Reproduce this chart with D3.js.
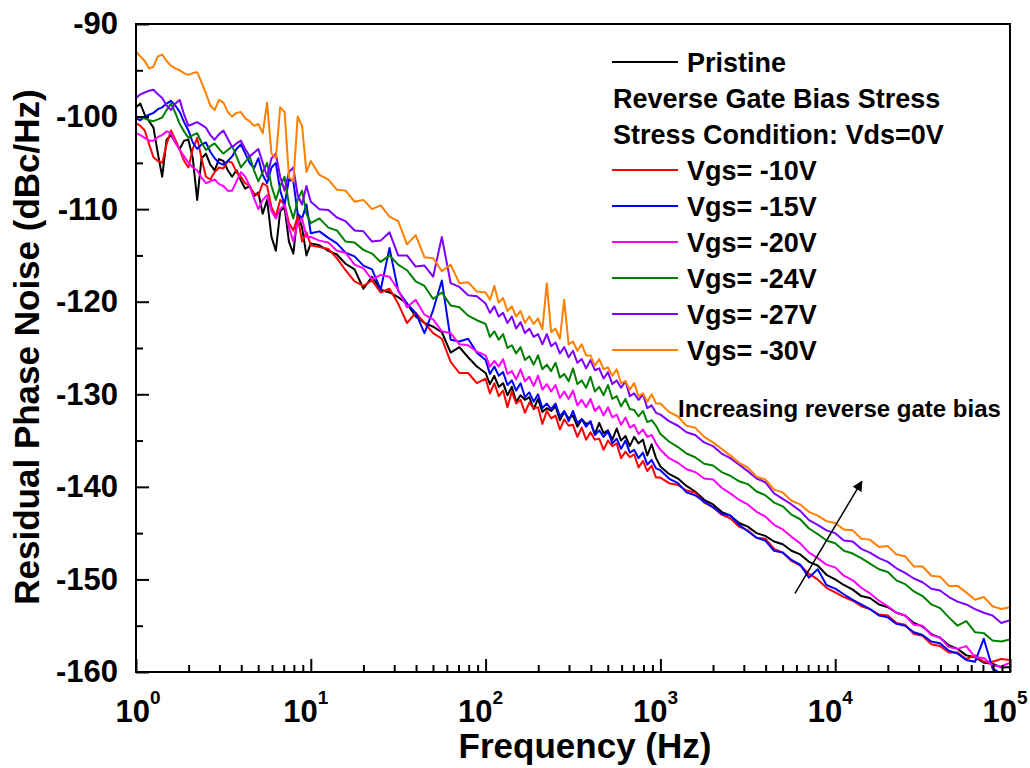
<!DOCTYPE html>
<html>
<head>
<meta charset="UTF-8">
<title>Residual Phase Noise</title>
<script src="https://d3js.org/d3.v7.min.js"></script>
<style>
  body { margin: 0; background: #fff; }
  svg text { font-family: Arial, "Liberation Sans", sans-serif; font-weight: bold; fill: #000; }
</style>
</head>
<body>
<svg id="chart" width="1030" height="768"></svg>
<script>
// sampling grid: 40 points per decade in the noisy decades (1-10 Hz, 100-1000 Hz), 20 elsewhere
const mantissasFine = [1.000,1.059,1.122,1.189,1.259,1.334,1.413,1.496,1.585,1.679,1.778,1.884,1.995,2.113,2.239,2.371,2.512,2.661,2.818,2.985,
                       3.162,3.350,3.548,3.758,3.981,4.217,4.467,4.732,5.012,5.309,5.623,5.957,6.310,6.683,7.079,7.499,7.943,8.414,8.913,9.441];
const mantissas = [1.00,1.12,1.26,1.41,1.58,1.78,2.00,2.24,2.51,2.82,3.16,3.55,3.98,4.47,5.01,5.62,6.31,7.08,7.94,8.91];
const decades = [1, 10, 100, 1000, 10000];
const frequency = [].concat(
  mantissasFine.map(m => m * 1),
  mantissas.map(m => m * 10),
  mantissasFine.map(m => m * 100),
  mantissas.map(m => m * 1000),
  mantissas.map(m => m * 10000),
  [100000]);

// values (dBc/Hz), rows follow the grid above
const pristine = [
  -99.0,-98.6,-99.8,-100.5,-101.2,-104.0,-106.5,-102.5,-102.0,-102.8,-103.5,-102.6,-102.5,-104.5,-109.0,-104.5,-104.0,-105.2,-105.8,-104.6,
  -104.8,-105.8,-106.5,-105.8,-106.9,-107.8,-107.5,-108.6,-108.2,-110.5,-109.0,-113.0,-114.5,-110.2,-109.8,-113.5,-114.8,-110.5,-112.0,-115.0,
  -113.7,-113.9,-114.5,-114.9,-115.9,-116.5,-118.6,-117.3,-118.7,-119.0,-119.5,-120.2,-121.6,-122.3,-122.7,-123.3,-125.5,-124.9,-126.0,-127.0,
  -127.7,-128.9,-128.0,-129.2,-128.8,-130.1,-129.2,-130.8,-130.1,-130.6,-130.3,-131.6,-130.5,-131.9,-131.5,-131.8,-131.3,-132.8,-131.9,-132.6,
  -132.3,-133.5,-132.7,-133.2,-133.0,-134.3,-133.1,-134.2,-133.9,-134.9,-133.7,-135.0,-134.5,-135.6,-134.6,-135.3,-134.9,-136.6,-135.4,-136.9,
  -137.8,-138.6,-139.1,-139.9,-140.5,-141.4,-141.9,-142.7,-143.1,-143.9,-144.3,-145.0,-145.3,-145.9,-146.2,-146.9,-147.3,-148.1,-148.5,-149.5,
  -150.0,-150.6,-151.1,-151.8,-152.0,-152.7,-153.0,-153.6,-153.9,-154.7,-155.1,-155.9,-156.3,-157.1,-157.5,-158.2,-158.4,-159.0,-159.1,-159.5,
  -159.5];
const vgs10 = [
  -100.7,-101.0,-101.5,-103.0,-104.4,-104.8,-105.0,-103.0,-101.5,-102.5,-103.6,-104.8,-105.5,-103.5,-102.3,-104.5,-106.5,-106.8,-106.0,-105.5,
  -105.6,-104.8,-105.0,-106.0,-106.5,-107.2,-107.5,-108.3,-108.5,-107.2,-107.5,-109.8,-110.8,-109.0,-109.5,-111.5,-112.3,-110.8,-113.5,-112.5,
  -113.9,-114.1,-114.3,-115.3,-116.6,-117.8,-118.3,-117.7,-119.0,-118.6,-120.2,-122.3,-121.2,-122.3,-123.4,-124.0,-126.5,-127.7,-127.7,-128.8,
  -128.3,-129.9,-128.8,-130.2,-129.6,-131.4,-129.7,-131.0,-130.6,-132.0,-130.9,-131.5,-131.4,-133.2,-131.8,-132.6,-132.3,-133.8,-132.7,-133.4,
  -133.3,-134.6,-133.6,-134.9,-134.1,-134.9,-134.8,-136.0,-135.0,-135.6,-135.3,-136.9,-136.2,-136.8,-136.5,-137.9,-137.2,-138.3,-137.7,-139.0,
  -139.0,-139.6,-139.8,-140.4,-140.6,-141.7,-142.2,-143.0,-143.4,-144.3,-144.7,-145.5,-145.6,-146.7,-147.1,-148.0,-148.5,-149.4,-150.0,-150.9,
  -151.4,-151.9,-152.3,-152.9,-153.2,-153.8,-153.9,-154.7,-154.9,-155.9,-156.1,-157.0,-157.2,-157.9,-157.9,-158.6,-158.2,-158.9,-158.9,-158.6,
  -158.7];
const vgs15 = [
  -100.2,-100.4,-100.0,-99.8,-99.6,-99.2,-99.0,-98.6,-98.3,-98.8,-99.5,-100.6,-101.5,-102.8,-103.5,-103.0,-102.8,-103.8,-104.5,-105.0,
  -105.2,-104.8,-104.3,-103.5,-103.0,-104.0,-105.0,-105.6,-104.5,-106.3,-107.2,-105.5,-105.0,-108.0,-109.5,-106.8,-107.0,-110.5,-111.0,-109.5,
  -112.6,-112.4,-113.1,-113.7,-114.7,-115.1,-116.1,-116.5,-118.7,-114.2,-118.8,-120.2,-121.2,-123.4,-120.9,-117.7,-124.1,-124.3,-124.0,-125.5,
  -126.3,-127.8,-127.0,-128.0,-127.6,-129.0,-128.5,-129.6,-128.8,-130.3,-129.8,-130.8,-130.0,-131.5,-131.0,-131.6,-131.0,-132.4,-131.8,-132.9,
  -131.8,-133.1,-132.7,-133.5,-132.9,-134.4,-133.9,-134.6,-134.0,-135.3,-134.8,-135.9,-135.0,-136.3,-136.0,-136.9,-136.3,-137.6,-137.1,-138.0,
  -138.2,-139.1,-139.6,-140.6,-140.9,-141.6,-142.2,-142.9,-143.1,-144.1,-144.8,-145.5,-145.8,-146.9,-147.1,-147.9,-148.4,-149.8,-148.9,-150.6,
  -151.0,-151.6,-152.2,-152.7,-153.2,-153.9,-154.1,-154.8,-155.0,-155.7,-156.0,-156.7,-156.9,-157.7,-158.0,-158.7,-158.9,-156.4,-159.6,-160.2,
  -160.5];
const vgs20 = [
  -101.8,-102.0,-102.3,-102.6,-102.6,-102.2,-102.0,-101.6,-101.8,-102.8,-103.6,-104.3,-105.0,-105.5,-105.8,-106.6,-107.2,-107.0,-106.8,-107.3,
  -107.5,-108.0,-108.0,-107.0,-106.0,-106.5,-107.5,-108.8,-110.0,-109.0,-108.5,-110.2,-111.0,-110.0,-109.5,-112.0,-113.5,-111.5,-111.0,-113.0,
  -113.0,-113.4,-113.6,-114.5,-114.7,-116.0,-116.4,-117.6,-117.1,-117.3,-118.7,-120.6,-119.8,-121.4,-121.9,-123.2,-123.4,-124.6,-124.7,-125.4,
  -125.8,-127.0,-126.4,-127.0,-126.2,-127.8,-127.5,-128.4,-127.3,-128.6,-128.1,-129.1,-128.0,-129.5,-128.9,-129.7,-129.0,-130.4,-129.7,-130.5,
  -129.6,-131.2,-130.6,-131.4,-130.5,-131.8,-131.3,-132.3,-131.4,-132.5,-132.2,-133.3,-132.5,-133.6,-133.3,-134.3,-133.8,-134.6,-134.4,-135.3,
  -136.0,-136.9,-137.4,-138.1,-138.4,-139.1,-139.2,-140.1,-140.7,-141.4,-141.9,-142.7,-143.2,-144.1,-144.6,-145.4,-146.1,-147.1,-147.7,-148.4,
  -148.7,-149.6,-150.1,-150.9,-151.5,-152.3,-152.9,-153.6,-153.9,-154.9,-155.0,-156.0,-156.3,-157.3,-157.5,-157.2,-158.4,-158.5,-159.3,-159.4,
  -159.0];
const vgs24 = [
  -100.0,-100.1,-100.2,-100.4,-100.5,-100.3,-100.1,-99.3,-98.6,-99.6,-100.8,-101.6,-102.3,-102.0,-101.8,-102.8,-103.6,-103.2,-102.9,-103.5,
  -104.0,-103.6,-103.2,-104.3,-105.5,-104.9,-104.3,-105.8,-107.0,-106.0,-105.0,-107.5,-109.0,-107.5,-106.5,-109.5,-111.0,-109.0,-108.0,-110.5,
  -111.5,-111.0,-112.0,-112.3,-113.5,-113.6,-114.4,-114.8,-115.7,-115.0,-116.0,-116.6,-117.8,-118.3,-119.7,-119.0,-120.4,-120.6,-121.5,-122.0,
  -122.4,-123.8,-123.2,-124.1,-123.5,-125.0,-124.7,-125.6,-124.9,-126.3,-125.9,-126.8,-125.8,-127.3,-126.8,-127.5,-126.6,-128.2,-127.8,-128.6,
  -127.2,-128.9,-128.5,-129.3,-128.1,-129.7,-129.2,-130.1,-129.0,-130.5,-130.2,-131.3,-130.5,-131.6,-131.7,-132.4,-131.8,-133.0,-132.8,-133.4,
  -134.3,-135.1,-135.7,-136.4,-136.8,-137.5,-137.7,-138.4,-138.8,-139.4,-139.7,-140.5,-140.9,-141.7,-142.1,-143.0,-143.5,-144.5,-145.1,-145.8,
  -146.1,-146.9,-147.2,-147.7,-148.3,-148.9,-149.2,-150.1,-150.5,-151.3,-151.8,-152.7,-153.1,-154.1,-155.0,-154.5,-155.7,-155.8,-156.6,-156.7,
  -156.5];
const vgs27 = [
  -98.0,-97.6,-97.4,-97.2,-97.1,-97.6,-98.0,-98.8,-99.3,-98.6,-98.2,-99.8,-101.0,-100.8,-100.6,-100.9,-101.2,-102.0,-102.5,-101.9,
  -101.5,-102.4,-103.3,-102.9,-102.6,-103.5,-104.3,-103.9,-103.5,-105.0,-106.5,-104.5,-104.0,-106.5,-108.0,-106.0,-105.5,-108.5,-109.5,-107.5,
  -109.2,-110.0,-110.1,-110.9,-111.3,-112.3,-112.4,-113.5,-113.4,-112.5,-115.0,-115.0,-116.2,-116.1,-117.3,-113.0,-118.0,-118.4,-119.3,-119.4,
  -120.2,-121.2,-120.5,-121.6,-121.2,-122.3,-121.6,-122.9,-122.2,-123.4,-122.9,-123.8,-123.5,-124.6,-123.5,-124.8,-124.4,-125.6,-124.9,-126.0,
  -125.3,-126.6,-126.2,-127.2,-126.3,-127.4,-127.2,-128.3,-127.6,-128.9,-128.5,-129.3,-128.6,-130.2,-129.9,-130.6,-130.0,-131.5,-131.2,-132.0,
  -132.2,-132.9,-133.4,-134.1,-134.4,-135.2,-135.6,-136.4,-136.9,-137.6,-138.3,-139.1,-139.5,-140.7,-141.3,-141.9,-142.6,-143.6,-144.1,-144.7,
  -145.0,-145.8,-145.9,-146.7,-147.1,-147.7,-148.1,-148.8,-149.3,-149.9,-150.3,-151.0,-151.2,-151.9,-152.4,-152.7,-153.2,-153.6,-153.9,-154.7,
  -154.4];
const vgs30 = [
  -93.0,-93.5,-94.0,-94.8,-94.6,-93.5,-93.3,-94.0,-94.5,-94.8,-95.0,-95.3,-95.5,-95.3,-95.2,-96.3,-97.5,-98.8,-99.3,-98.2,
  -98.5,-99.5,-100.0,-99.6,-99.5,-100.2,-100.5,-101.0,-100.8,-101.8,-98.5,-104.0,-104.5,-99.0,-99.5,-106.5,-107.0,-100.0,-101.0,-106.0,
  -104.8,-106.3,-106.8,-107.9,-108.0,-109.2,-109.0,-110.0,-109.6,-110.8,-111.3,-113.8,-112.8,-115.2,-115.3,-116.7,-116.0,-118.0,-117.9,-118.9,
  -119.0,-119.8,-118.3,-120.1,-119.6,-121.0,-120.5,-121.6,-121.0,-122.3,-121.6,-122.4,-121.8,-123.0,-118.0,-123.3,-122.9,-124.0,-119.8,-124.6,
  -124.3,-125.3,-124.6,-125.8,-125.8,-126.9,-126.2,-127.3,-127.1,-128.0,-127.3,-128.8,-128.6,-129.5,-128.8,-130.2,-129.9,-130.8,-130.0,-131.0,
  -131.0,-131.9,-132.4,-133.4,-133.6,-134.6,-135.2,-135.9,-136.6,-137.4,-137.9,-138.9,-139.2,-140.3,-140.6,-141.5,-141.9,-142.7,-143.1,-143.7,
  -143.9,-144.6,-144.7,-145.6,-145.7,-146.5,-146.4,-147.3,-147.5,-148.6,-148.6,-149.6,-149.7,-150.7,-150.7,-151.4,-152.2,-151.9,-152.9,-153.2,
  -153.0];

const seriesNames = ["Pristine", "Vgs= -10V", "Vgs= -15V", "Vgs= -20V", "Vgs= -24V", "Vgs= -27V", "Vgs= -30V"];
const seriesValues = [pristine, vgs10, vgs15, vgs20, vgs24, vgs27, vgs30];
const seriesColors = ["#000000", "#ff0000", "#0000ff", "#ff00ff", "#008000", "#8000ff", "#ff8000"];
const legendHeadings = ["Reverse Gate Bias Stress", "Stress Condition: Vds=0V"];

const xMajor = [1, 10, 100, 1000, 10000, 100000];
const xMinor = decades.flatMap(d => [2, 3, 4, 5, 6, 7, 8, 9].map(m => m * d));
const yMajor = [-90, -100, -110, -120, -130, -140, -150, -160];
const yMinor = [-95, -105, -115, -125, -135, -145, -155];

const margin = { top: 24, right: 20, bottom: 96, left: 136 };
const width = 1030 - margin.left - margin.right,
      height = 768 - margin.top - margin.bottom;

const svg = d3.select("#chart");
const g = svg.append("g").attr("transform", `translate(${margin.left},${margin.top})`);

const x = d3.scaleLog().domain([1, 100000]).range([0, width]);
const y = d3.scaleLinear().domain([-160, -90]).range([height, 0]);

g.append("clipPath").attr("id", "plotClip")
  .append("rect").attr("width", width).attr("height", height);

// curves, pristine first so the stressed traces sit on top
const line = d3.line()
  .x((d, i) => x(frequency[i]))
  .y(d => y(d));

g.append("g").attr("clip-path", "url(#plotClip)")
  .selectAll("path")
  .data(seriesValues)
  .enter()
  .append("path")
  .attr("d", d => line(d))
  .attr("fill", "none")
  .attr("stroke", (d, i) => seriesColors[i])
  .attr("stroke-width", 2)
  .attr("stroke-linejoin", "round");

// axes with inward ticks
const styleAxis = sel => {
  sel.select(".domain").remove();
  sel.selectAll("line").attr("stroke", "#000").attr("stroke-width", 2);
};

g.append("g")
  .call(d3.axisLeft(y).tickValues(yMinor).tickSize(-7).tickSizeOuter(0).tickFormat(""))
  .call(styleAxis);

g.append("g")
  .call(d3.axisLeft(y).tickValues(yMajor).tickSize(-13).tickSizeOuter(0).tickPadding(18).tickFormat(d => String(d)))
  .call(styleAxis)
  .selectAll("text")
  .style("font-size", "31px");

g.append("g")
  .attr("transform", `translate(0,${height})`)
  .call(d3.axisBottom(x).tickValues(xMinor).tickSize(-7).tickSizeOuter(0).tickFormat(""))
  .call(styleAxis);

const xAxis = g.append("g")
  .attr("transform", `translate(0,${height})`)
  .call(d3.axisBottom(x).tickValues(xMajor).tickSize(-13).tickSizeOuter(0).tickFormat(""))
  .call(styleAxis);

xAxis.selectAll(".tick text").remove();
const xLab = xAxis.selectAll(".tick")
  .append("text")
  .attr("y", 50)
  .attr("x", (d, i) => i === 0 ? -21 : -28)
  .attr("text-anchor", "start")
  .style("font-size", "31px");
xLab.append("tspan").text("10");
xLab.append("tspan")
  .attr("dy", -18)
  .style("font-size", "19px")
  .text(d => Math.round(Math.log10(d)));

// frame
g.append("rect")
  .attr("width", width).attr("height", height)
  .attr("fill", "none").attr("stroke", "#000").attr("stroke-width", 2);

// axis titles
svg.append("text")
  .attr("x", 585).attr("y", 758)
  .attr("text-anchor", "middle")
  .style("font-size", "35px")
  .text("Frequency (Hz)");

svg.append("text")
  .attr("transform", "translate(39,347) rotate(-90)")
  .attr("text-anchor", "middle")
  .style("font-size", "35px")
  .text("Residual Phase Noise (dBc/Hz)");

// legend
const legend = svg.append("g").attr("transform", "translate(612,62)");
const rowH = 36;
const legendRows = [
  { type: "series", idx: 0 },
  { type: "head", text: legendHeadings[0] },
  { type: "head", text: legendHeadings[1] },
  ...seriesNames.slice(1).map((n, i) => ({ type: "series", idx: i + 1 }))
];
legendRows.forEach((r, i) => {
  const ry = i * rowH;
  if (r.type === "series") {
    legend.append("line")
      .attr("x1", 0).attr("x2", 66).attr("y1", ry).attr("y2", ry)
      .attr("stroke", seriesColors[r.idx]).attr("stroke-width", 2);
    legend.append("text")
      .attr("x", 75).attr("y", ry + 9.5)
      .style("font-size", "27px")
      .text(seriesNames[r.idx]);
  } else {
    legend.append("text")
      .attr("x", 1).attr("y", ry + 9.5)
      .style("font-size", "27px")
      .text(r.text);
  }
});

// annotation arrow
svg.append("defs").append("marker")
  .attr("id", "arrowHead")
  .attr("viewBox", "0 0 10 10")
  .attr("refX", 9).attr("refY", 5)
  .attr("markerWidth", 7).attr("markerHeight", 7)
  .attr("orient", "auto")
  .append("path").attr("d", "M0,0 L10,5 L0,10 Z").attr("fill", "#000");

g.append("line")
  .attr("x1", x(5890)).attr("y1", y(-151.5))
  .attr("x2", x(14200)).attr("y2", y(-139.4))
  .attr("stroke", "#000").attr("stroke-width", 1.5)
  .attr("marker-end", "url(#arrowHead)");

svg.append("text")
  .attr("x", 678).attr("y", 417)
  .style("font-size", "24px")
  .text("Increasing reverse gate bias");
</script>
</body>
</html>
